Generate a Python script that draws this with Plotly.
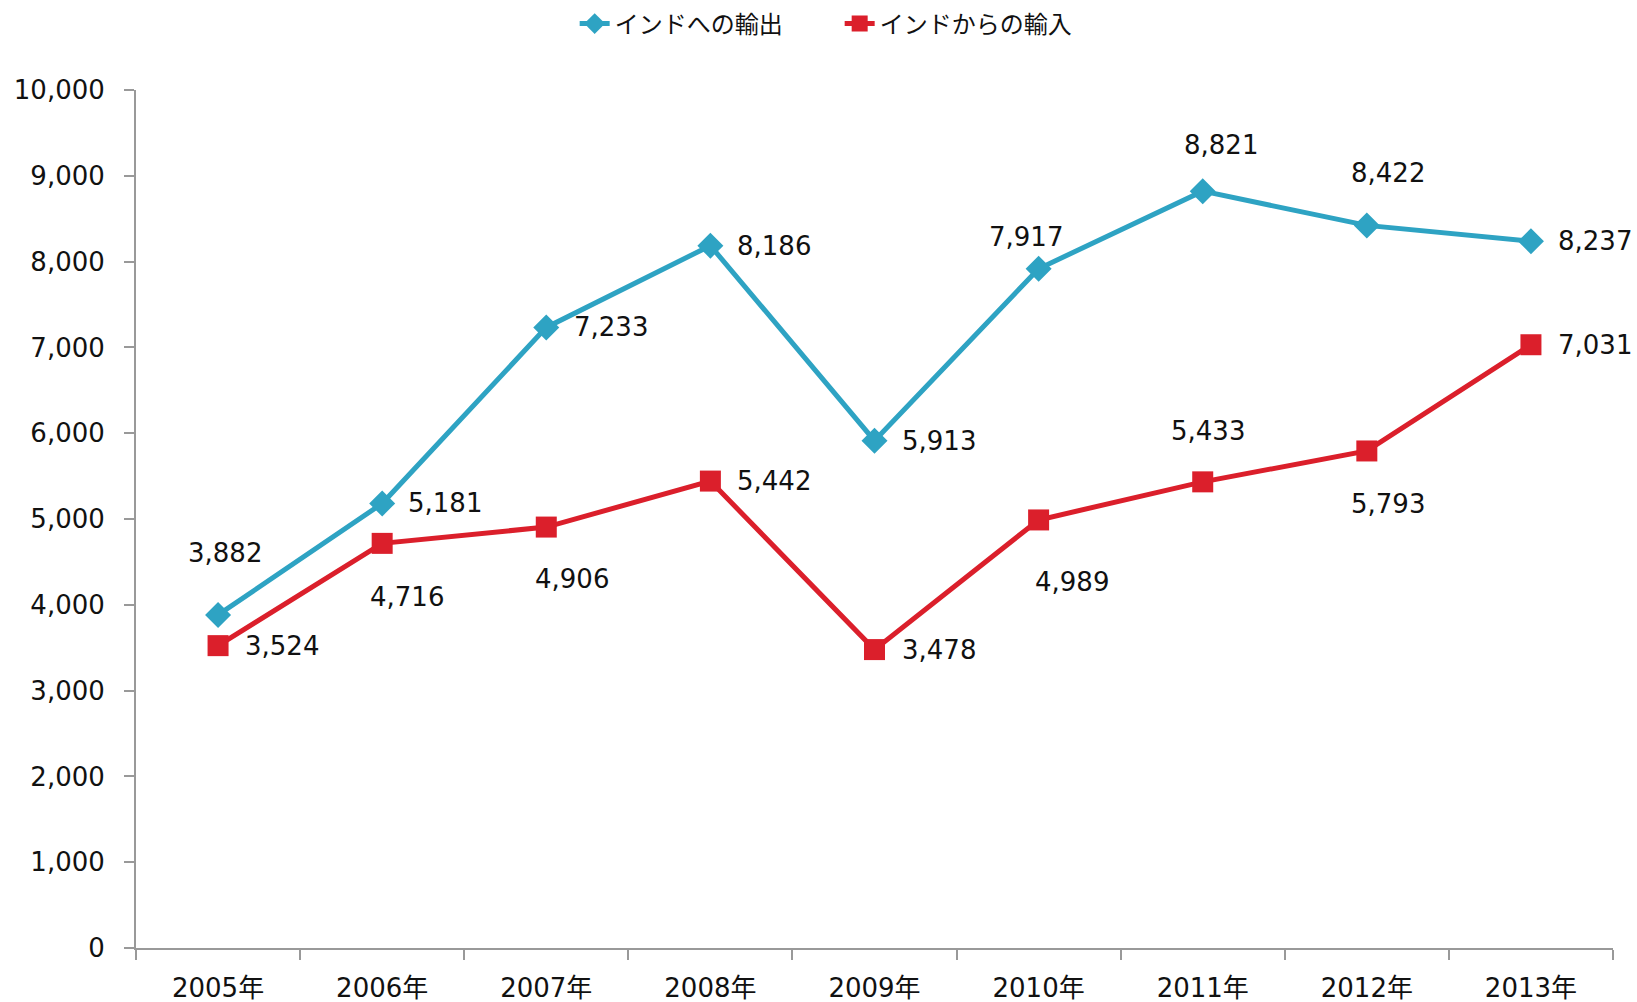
import plotly.graph_objects as go

years = ["2005年", "2006年", "2007年", "2008年", "2009年", "2010年", "2011年", "2012年", "2013年"]
exports = [3882, 5181, 7233, 8186, 5913, 7917, 8821, 8422, 8237]
imports = [3524, 4716, 4906, 5442, 3478, 4989, 5433, 5793, 7031]
export_name = "インドへの輸出"
import_name = "インドからの輸入"

# label offsets (pixels) relative to each point
exp_off = [(7, 62), (63, 0), (65, 0), (64, 0), (64, 0), (-13, 32), (18, 46), (21, 52), (64, 0)]
imp_off = [(64, 0), (25, -54), (26, -52), (64, 0), (64, 0), (33, -62), (5, 51), (21, -53), (64, 0)]

BLUE = "#2ea3c3"
RED = "#db1f2b"
FONT = "DejaVu Sans, Noto Sans CJK JP, sans-serif"

fig = go.Figure()
fig.add_trace(go.Scatter(x=years, y=exports, name=export_name, mode="lines+markers",
                         line=dict(color=BLUE, width=5),
                         marker=dict(symbol="diamond", size=20, color=BLUE)))
fig.add_trace(go.Scatter(x=years, y=imports, name=import_name, mode="lines+markers",
                         line=dict(color=RED, width=5),
                         marker=dict(symbol="square", size=21, color=RED)))

def fmt(v):
    return f"{v:,}"

for ser, offs in ((exports, exp_off), (imports, imp_off)):
    for x, v, (dx, dy) in zip(years, ser, offs):
        fig.add_annotation(x=x, y=v, text=fmt(v), showarrow=False, xshift=dx, yshift=dy,
                           font=dict(size=26, color="#111"))

fig.update_layout(
    width=1637, height=1002,
    margin=dict(l=136, r=24, t=90, b=54, autoexpand=False),
    paper_bgcolor="white", plot_bgcolor="white",
    font=dict(family=FONT, size=26, color="#111"),
    showlegend=True,
    legend=dict(orientation="h", x=0.297, xanchor="left", y=1.077, yanchor="middle",
                font=dict(size=24, family="Noto Sans CJK JP, sans-serif"), entrywidth=220,
                bgcolor="rgba(0,0,0,0)"),
    xaxis=dict(type="category", range=[-0.5, 8.5], showline=True, linecolor="#999", linewidth=2,
               ticks="outside", tickson="boundaries", ticklen=10, tickcolor="#999", tickwidth=2,
               showgrid=False, zeroline=False, tickfont=dict(size=26), ticklabelstandoff=16),
    yaxis=dict(range=[0, 10000], dtick=1000, tickformat=",", showline=True, linecolor="#999",
               linewidth=2, ticks="outside", ticklen=10, tickcolor="#999", tickwidth=2,
               showgrid=False, zeroline=False, tickfont=dict(size=26), ticklabelstandoff=14),
)
fig.write_html("out.html", config={"displayModeBar": False},
               post_script="document.body.style.margin='0';")
